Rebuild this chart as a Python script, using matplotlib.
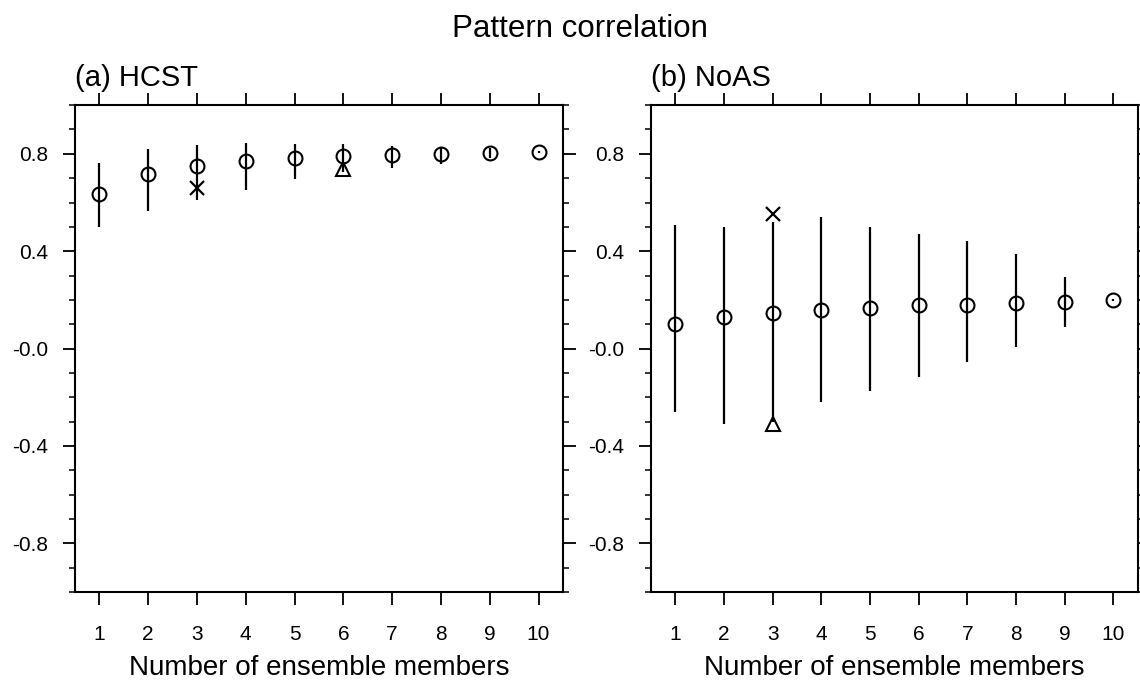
import matplotlib.pyplot as plt
import numpy as np

plt.rcParams['font.family'] = ['Liberation Sans', 'DejaVu Sans']

# number of ensemble members
members = [1, 2, 3, 4, 5, 6, 7, 8, 9, 10]

# (a) HCST: mean and spread of pattern correlation
hcst_mean = [0.636, 0.718, 0.751, 0.770, 0.781, 0.789, 0.796, 0.801, 0.804, 0.807]
hcst_hi = [0.763, 0.819, 0.837, 0.845, 0.841, 0.840, 0.833, 0.825, 0.822, 0.810]
hcst_lo = [0.500, 0.564, 0.609, 0.653, 0.695, 0.725, 0.743, 0.759, 0.782, 0.804]
hcst_cross = (3, 0.661)
hcst_tri = (6, 0.737)

# (b) NoAS
noas_mean = [0.102, 0.130, 0.148, 0.158, 0.165, 0.177, 0.178, 0.187, 0.192, 0.199]
noas_hi = [0.507, 0.501, 0.520, 0.541, 0.498, 0.471, 0.441, 0.389, 0.293, 0.202]
noas_lo = [-0.259, -0.311, -0.300, -0.221, -0.176, -0.116, -0.054, 0.007, 0.088, 0.196]
noas_cross = (3, 0.552)
noas_tri = (3, -0.309)

yticks = [-0.8, -0.4, 0.0, 0.4, 0.8]
ytick_labels = ['-0.8', '-0.4', '-0.0', '0.4', '0.8']

fig = plt.figure(figsize=(11.4, 6.8), dpi=100)
ax1 = fig.add_axes([0.0658, 0.1294, 0.428, 0.716])
ax2 = fig.add_axes([0.571, 0.1294, 0.427, 0.716])


def draw_panel(ax, title, mean, lo, hi, cross, tri):
    ax.vlines(members, lo, hi, colors='black', lw=1.6)
    ax.plot(members, mean, 'o', ms=10, mfc='none', mec='black', mew=1.5)
    ax.plot(cross[0], cross[1], 'x', ms=10, mec='black', mew=1.6)
    ax.plot(tri[0], tri[1], '^', ms=10, mfc='none', mec='black', mew=1.5)

    ax.set_xlim(0.5, 10.5)
    ax.set_ylim(-1.0, 1.0)
    ax.set_xticks(members)
    ax.set_yticks(yticks)
    ax.set_yticklabels(ytick_labels)
    ax.set_yticks(np.arange(-1.0, 1.01, 0.1), minor=True)
    ax.tick_params(axis='both', which='major', direction='out', length=9,
                   width=1.3, labelsize=15, top=True, right=True)
    ax.tick_params(axis='x', which='major', pad=15)
    ax.tick_params(axis='y', which='major', pad=10.5)
    ax.tick_params(axis='y', which='minor', direction='out', length=4.5,
                   width=1.1, right=True)
    for sp in ax.spines.values():
        sp.set_linewidth(1.5)
    ax.set_xlabel('Number of ensemble members', fontsize=20, labelpad=8)
    ax.set_title(title, loc='left', fontsize=21, pad=14)


draw_panel(ax1, '(a) HCST', hcst_mean, hcst_lo, hcst_hi, hcst_cross, hcst_tri)
draw_panel(ax2, '(b) NoAS', noas_mean, noas_lo, noas_hi, noas_cross, noas_tri)

fig.suptitle('Pattern correlation', fontsize=22.5, x=0.5088, y=0.979)

plt.savefig('out.png', dpi=100)
